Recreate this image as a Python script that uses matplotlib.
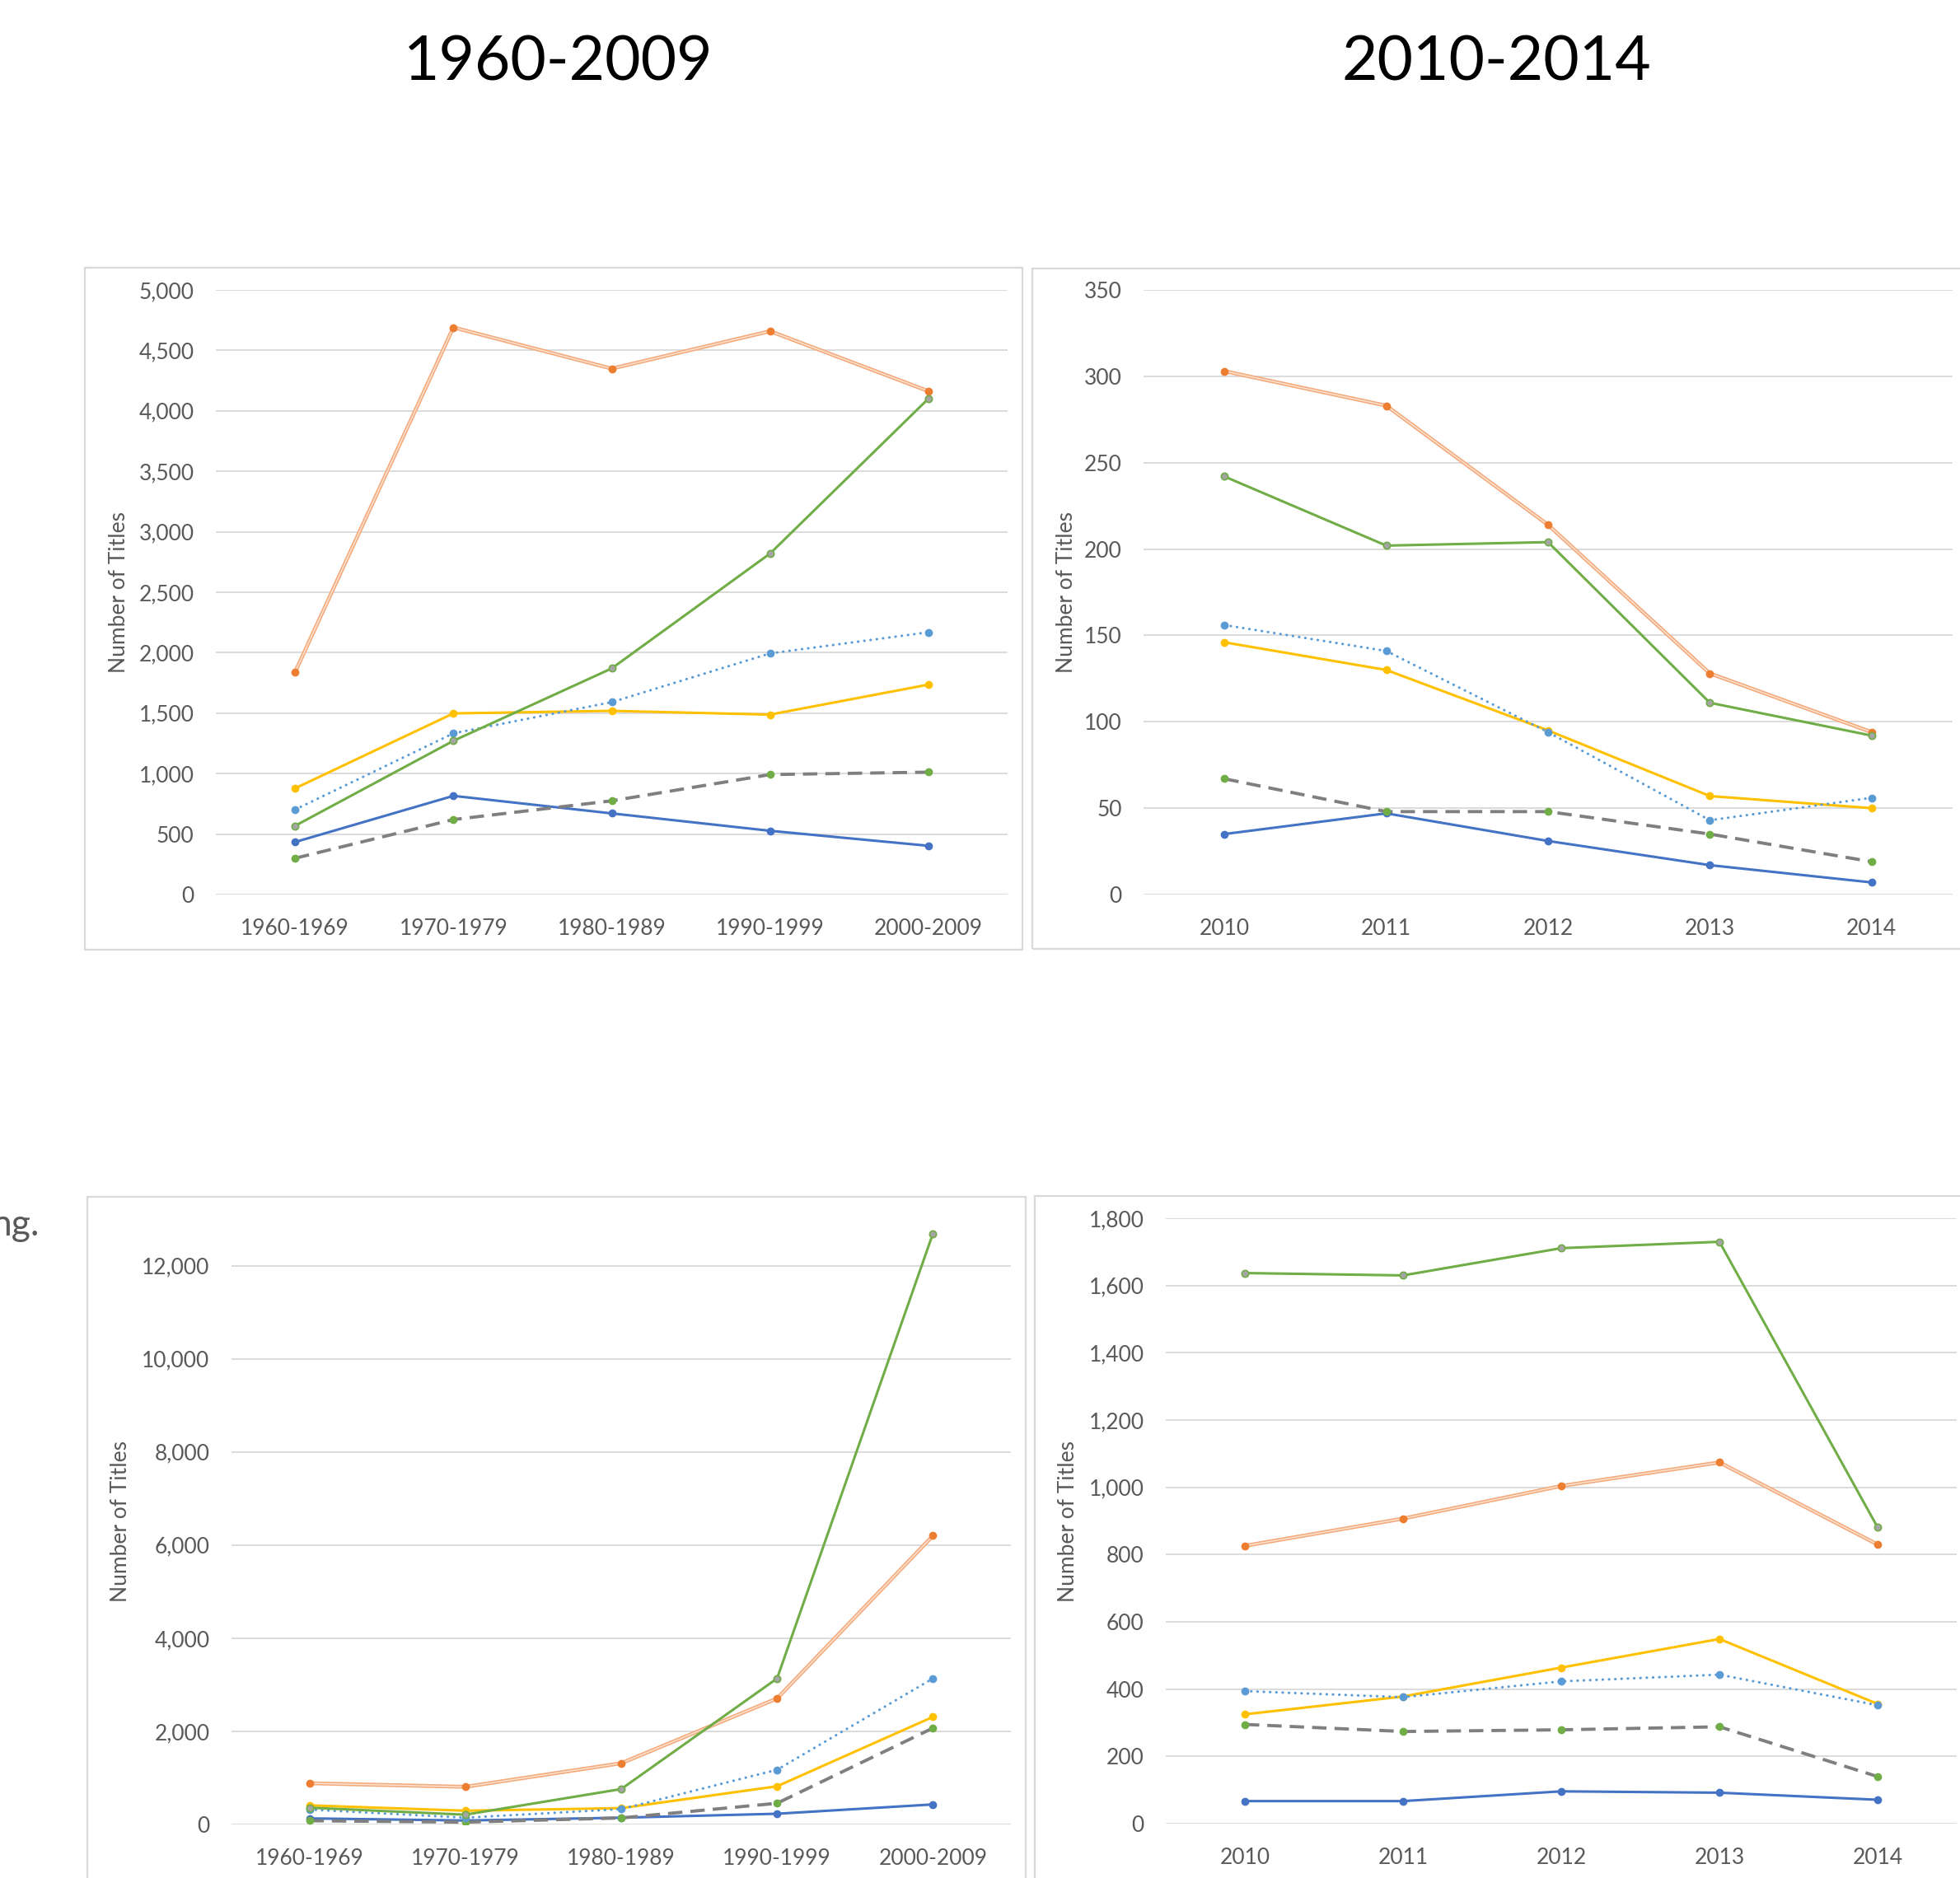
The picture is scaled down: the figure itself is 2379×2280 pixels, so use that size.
import matplotlib
matplotlib.use('Agg')
import matplotlib.pyplot as plt
from matplotlib.patches import Rectangle
from matplotlib.ticker import FuncFormatter

plt.rcParams['font.family'] = ['Lato', 'DejaVu Sans']

# category labels
decades = ['1960-1969', '1970-1979', '1980-1989', '1990-1999', '2000-2009']
years = ['2010', '2011', '2012', '2013', '2014']

# top row, 1960-2009
tl_blue = [434, 816, 671, 527, 403]
tl_orange = [1839, 4690, 4349, 4659, 4163]
tl_gray = [300, 620, 775, 992, 1012]
tl_yellow = [878, 1498, 1519, 1488, 1736]
tl_ltblue = [702, 1333, 1591, 1994, 2169]
tl_green = [568, 1271, 1870, 2820, 4101]

# top row, 2010-2014
tr_blue = [35, 47, 31, 17, 7]
tr_orange = [303, 283, 214, 128, 94]
tr_gray = [67, 48, 48, 35, 19]
tr_yellow = [146, 130, 95, 57, 50]
tr_ltblue = [156, 141, 94, 43, 56]
tr_green = [242, 202, 204, 111, 92]

# bottom row, 1960-2009
bl_blue = [130, 85, 145, 230, 430]
bl_orange = [885, 808, 1315, 2705, 6200]
bl_gray = [80, 50, 140, 455, 2070]
bl_yellow = [410, 295, 350, 820, 2310]
bl_ltblue = [320, 145, 330, 1175, 3135]
bl_green = [360, 210, 760, 3135, 12690]

# bottom row, 2010-2014
br_blue = [67, 67, 96, 92, 71]
br_orange = [826, 907, 1004, 1074, 830]
br_gray = [295, 274, 279, 288, 140]
br_yellow = [325, 378, 464, 549, 356]
br_ltblue = [394, 376, 423, 443, 352]
br_green = [1637, 1630, 1711, 1730, 881]

W, H = 2379, 2280
fig = plt.figure(figsize=(W / 100, H / 100), dpi=100)

TXT = '#595959'
GRID = '#D9D9D9'


def box(x0, y0, x1, y1):
    # chart area border, pixel coords from top-left
    fig.patches.append(Rectangle((x0 / W, 1 - y1 / H), (x1 - x0) / W, (y1 - y0) / H,
                                 transform=fig.transFigure, fill=False,
                                 edgecolor=GRID, lw=1.6, zorder=0))


def make_ax(x0, y0, x1, y1):
    return fig.add_axes([x0 / W, 1 - y1 / H, (x1 - x0) / W, (y1 - y0) / H])


def draw(ax, cats, blue, orange, gray, yellow, ltblue, green, ymax, step, top=None):
    x = list(range(len(cats)))
    ms = 6
    ax.plot(x, blue, color='#4472C4', lw=2.2, marker='o', ms=ms, mec='#4472C4', mfc='#4472C4')
    ax.plot(x, orange, color='#F4AA7C', lw=3.4)
    ax.plot(x, orange, color='#FCE2D0', lw=1.1, marker='o', ms=ms, mec='#ED7D31', mfc='#ED7D31')
    ax.plot(x, gray, color='#7F7F7F', lw=2.8, dashes=(4.5, 2.5), marker='o', ms=ms,
            mec='#70AD47', mfc='#70AD47')
    ax.plot(x, yellow, color='#FFC000', lw=2.2, marker='o', ms=ms, mec='#FFC000', mfc='#FFC000')
    ax.plot(x, ltblue, color='#5B9BD5', lw=2.2, dashes=(0.1, 2.4), dash_capstyle='round',
            marker='o', ms=ms, mec='#5B9BD5', mfc='#5B9BD5')
    ax.plot(x, green, color='#70AD47', lw=2.2, marker='o', ms=ms, mec='#70AD47', mfc='#A5A5A5',
            mew=1.2)
    ax.set_xlim(-0.5, len(cats) - 0.5)
    ax.set_ylim(0, top if top else ymax)
    ax.set_yticks(list(range(0, ymax + 1, step)))
    ax.yaxis.set_major_formatter(FuncFormatter(lambda v, p: f'{int(v):,}'))
    ax.set_xticks(x)
    ax.set_xticklabels(cats)
    ax.grid(axis='y', color=GRID, lw=1.3)
    ax.set_axisbelow(True)
    for s in ax.spines.values():
        s.set_visible(False)
    ax.tick_params(length=0, labelsize=19, colors=TXT)
    ax.tick_params(axis='y', pad=19)
    ax.tick_params(axis='x', pad=21)
    ax.patch.set_alpha(0)


box(103, 325, 1241, 1153)
box(1253, 326, 2400, 1152)
box(106, 1453, 1245, 2300)
box(1256, 1452, 2400, 2300)

ax1 = make_ax(262, 352, 1223, 1086)
draw(ax1, decades, tl_blue, tl_orange, tl_gray, tl_yellow, tl_ltblue, tl_green, 5000, 500)

ax2 = make_ax(1388, 352, 2370, 1086)
draw(ax2, years, tr_blue, tr_orange, tr_gray, tr_yellow, tr_ltblue, tr_green, 350, 50)

ax3 = make_ax(281, 1480, 1227, 2215)
draw(ax3, decades, bl_blue, bl_orange, bl_gray, bl_yellow, bl_ltblue, bl_green, 12000, 2000, top=13000)

ax4 = make_ax(1415, 1479, 2375, 2214)
draw(ax4, years, br_blue, br_orange, br_gray, br_yellow, br_ltblue, br_green, 1800, 200)

# axis titles
for xp, yp in [(145, 719), (1294, 719), (147, 1847), (1297, 1847)]:
    fig.text(xp / W, 1 - yp / H, 'Number of Titles', rotation=90, ha='center', va='center',
             fontsize=19, color=TXT)

fig.text(678 / W, 1 - 97 / H, '1960-2009', ha='center', va='baseline', fontsize=54, color='black')
fig.text(1816 / W, 1 - 97 / H, '2010-2014', ha='center', va='baseline', fontsize=54, color='black')
fig.text(48 / W, 1 - 1500 / H, 'ng.', ha='right', va='baseline', fontsize=32, color=TXT)

fig.savefig('out.png', dpi=100)
